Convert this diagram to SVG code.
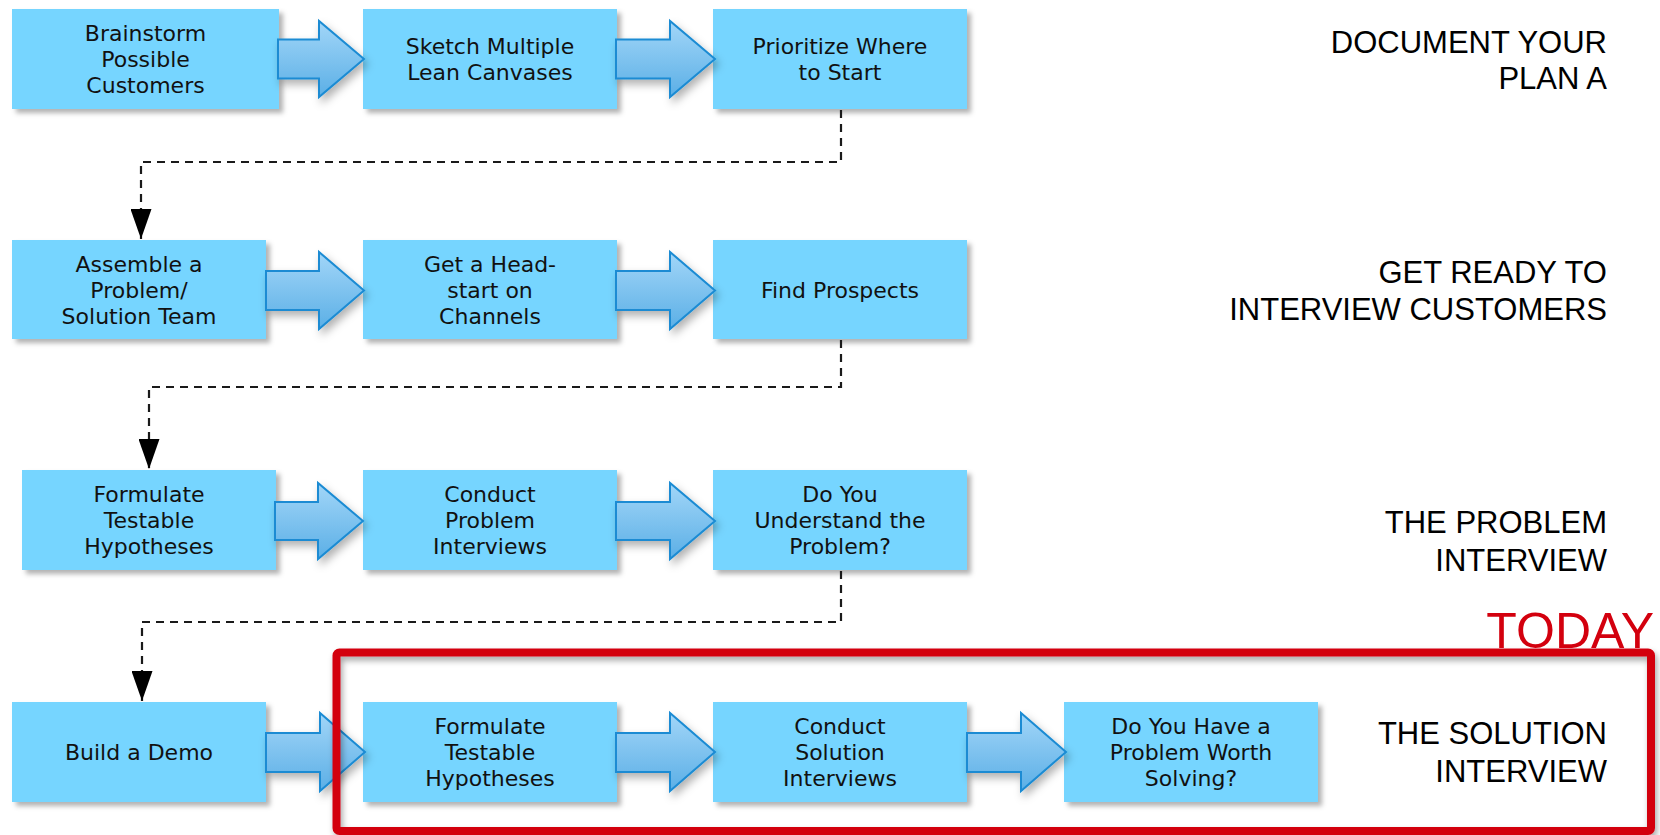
<svg xmlns="http://www.w3.org/2000/svg" width="1660" height="835" viewBox="0 0 1660 835">
<style>
.box{fill:#76D5FF;filter:url(#sh);}
.bt{font-family:"DejaVu Sans",Verdana,sans-serif;font-size:22px;fill:#111;text-anchor:middle;}
.lbl{font-family:"Liberation Sans",Arial,sans-serif;font-size:31px;fill:#000;text-anchor:end;}
.flow{fill:url(#ag);stroke:#1A8BD3;stroke-width:2;stroke-linejoin:miter;filter:url(#sh2);}
.dash{fill:none;stroke:#1a1a1a;stroke-width:2.2;stroke-dasharray:8 6;marker-end:url(#tri);}
</style>
<defs>
<linearGradient id="ag" x1="0" y1="0" x2="0" y2="1">
<stop offset="0" stop-color="#A2D6F8"/>
<stop offset="1" stop-color="#5BAFE6"/>
</linearGradient>
<filter id="sh" x="-10%" y="-10%" width="125%" height="135%">
<feDropShadow dx="4" dy="4" stdDeviation="2.5" flood-color="#000" flood-opacity="0.3"/>
</filter>
<filter id="sh2" x="-20%" y="-20%" width="150%" height="150%">
<feDropShadow dx="3" dy="5" stdDeviation="4" flood-color="#000" flood-opacity="0.3"/>
</filter>
<filter id="sh3" x="-5%" y="-10%" width="110%" height="130%">
<feDropShadow dx="2" dy="4" stdDeviation="3" flood-color="#000" flood-opacity="0.35"/>
</filter>
<marker id="tri" markerUnits="userSpaceOnUse" markerWidth="30" markerHeight="21" refX="30" refY="10.5" orient="auto" viewBox="0 0 30 21">
<path d="M0,0 L30,10.5 L0,21 Z" fill="#000"/>
</marker>
</defs>
<rect width="1660" height="835" fill="#fff"/>

<g id="n1"><rect class="box" x="12" y="9" width="267" height="100"/><text class="bt"><tspan x="145.5" y="41">Brainstorm</tspan><tspan x="145.5" y="67">Possible</tspan><tspan x="145.5" y="93">Customers</tspan></text></g>
<g id="n2"><rect class="box" x="363" y="9" width="254" height="100"/><text class="bt"><tspan x="490" y="54">Sketch Multiple</tspan><tspan x="490" y="80">Lean Canvases</tspan></text></g>
<g id="n3"><rect class="box" x="713" y="9" width="254" height="100"/><text class="bt"><tspan x="840" y="54">Prioritize Where</tspan><tspan x="840" y="80">to Start</tspan></text></g>

<g id="n4"><rect class="box" x="12" y="240" width="254" height="99"/><text class="bt"><tspan x="139" y="272">Assemble a</tspan><tspan x="139" y="298">Problem/</tspan><tspan x="139" y="324">Solution Team</tspan></text></g>
<g id="n5"><rect class="box" x="363" y="240" width="254" height="99"/><text class="bt"><tspan x="490" y="272">Get a Head-</tspan><tspan x="490" y="298">start on</tspan><tspan x="490" y="324">Channels</tspan></text></g>
<g id="n6"><rect class="box" x="713" y="240" width="254" height="99"/><text class="bt"><tspan x="840" y="298">Find Prospects</tspan></text></g>

<g id="n7"><rect class="box" x="22" y="470" width="254" height="100"/><text class="bt"><tspan x="149" y="502">Formulate</tspan><tspan x="149" y="528">Testable</tspan><tspan x="149" y="554">Hypotheses</tspan></text></g>
<g id="n8"><rect class="box" x="363" y="470" width="254" height="100"/><text class="bt"><tspan x="490" y="502">Conduct</tspan><tspan x="490" y="528">Problem</tspan><tspan x="490" y="554">Interviews</tspan></text></g>
<g id="n9"><rect class="box" x="713" y="470" width="254" height="100"/><text class="bt"><tspan x="840" y="502">Do You</tspan><tspan x="840" y="528">Understand the</tspan><tspan x="840" y="554">Problem?</tspan></text></g>

<g id="n10"><rect class="box" x="12" y="702" width="254" height="100"/><text class="bt"><tspan x="139" y="760">Build a Demo</tspan></text></g>
<g id="n11"><rect class="box" x="363" y="702" width="254" height="100"/><text class="bt"><tspan x="490" y="734">Formulate</tspan><tspan x="490" y="760">Testable</tspan><tspan x="490" y="786">Hypotheses</tspan></text></g>
<g id="n12"><rect class="box" x="713" y="702" width="254" height="100"/><text class="bt"><tspan x="840" y="734">Conduct</tspan><tspan x="840" y="760">Solution</tspan><tspan x="840" y="786">Interviews</tspan></text></g>
<g id="n13"><rect class="box" x="1064" y="702" width="254" height="100"/><text class="bt"><tspan x="1191" y="734">Do You Have a</tspan><tspan x="1191" y="760">Problem Worth</tspan><tspan x="1191" y="786">Solving?</tspan></text></g>

<g id="connectors">
<path class="flow" d="M278,39.5 H319 V21 L364,59 L319,97 V78.5 H278 Z"/>
<path class="flow" d="M616,39.5 H670 V21 L715,59 L670,97 V78.5 H616 Z"/>
<path class="flow" d="M266,271 H319 V252 L364,290.5 L319,329 V310 H266 Z"/>
<path class="flow" d="M616,271 H670 V252 L715,290.5 L670,329 V310 H616 Z"/>
<path class="flow" d="M275,502 H318 V483 L363,521 L318,559 V540 H275 Z"/>
<path class="flow" d="M616,502 H670 V483 L715,521 L670,559 V540 H616 Z"/>
<path class="flow" d="M266,733 H320 V713 L365,752 L320,791 V772 H266 Z"/>
<path class="flow" d="M616,733 H670 V713 L715,752 L670,791 V772 H616 Z"/>
<path class="flow" d="M967,733 H1021 V713 L1066,752 L1021,791 V772 H967 Z"/>
<path class="dash" d="M841,110 V162 H141 V239"/>
<path class="dash" d="M841,340 V387 H149 V469"/>
<path class="dash" d="M841,571 V622 H142 V701"/>
</g>

<g id="labels">
<text class="lbl"><tspan x="1607" y="53">DOCUMENT YOUR</tspan><tspan x="1607" y="89">PLAN A</tspan></text>
<text class="lbl"><tspan x="1607" y="283">GET READY TO</tspan><tspan x="1607" y="320">INTERVIEW CUSTOMERS</tspan></text>
<text class="lbl"><tspan x="1607" y="533">THE PROBLEM</tspan><tspan x="1607" y="571">INTERVIEW</tspan></text>
<text class="lbl"><tspan x="1607" y="744">THE SOLUTION</tspan><tspan x="1607" y="782">INTERVIEW</tspan></text>
</g>

<g id="today">
<rect x="336.5" y="652.5" width="1314.5" height="178.5" rx="3" fill="none" stroke="#D3000E" stroke-width="8" filter="url(#sh3)"/>
<text x="1654" y="648" font-family="Liberation Sans, Arial, sans-serif" font-size="50" fill="#D3000E" text-anchor="end">TODAY</text>
</g>
</svg>
